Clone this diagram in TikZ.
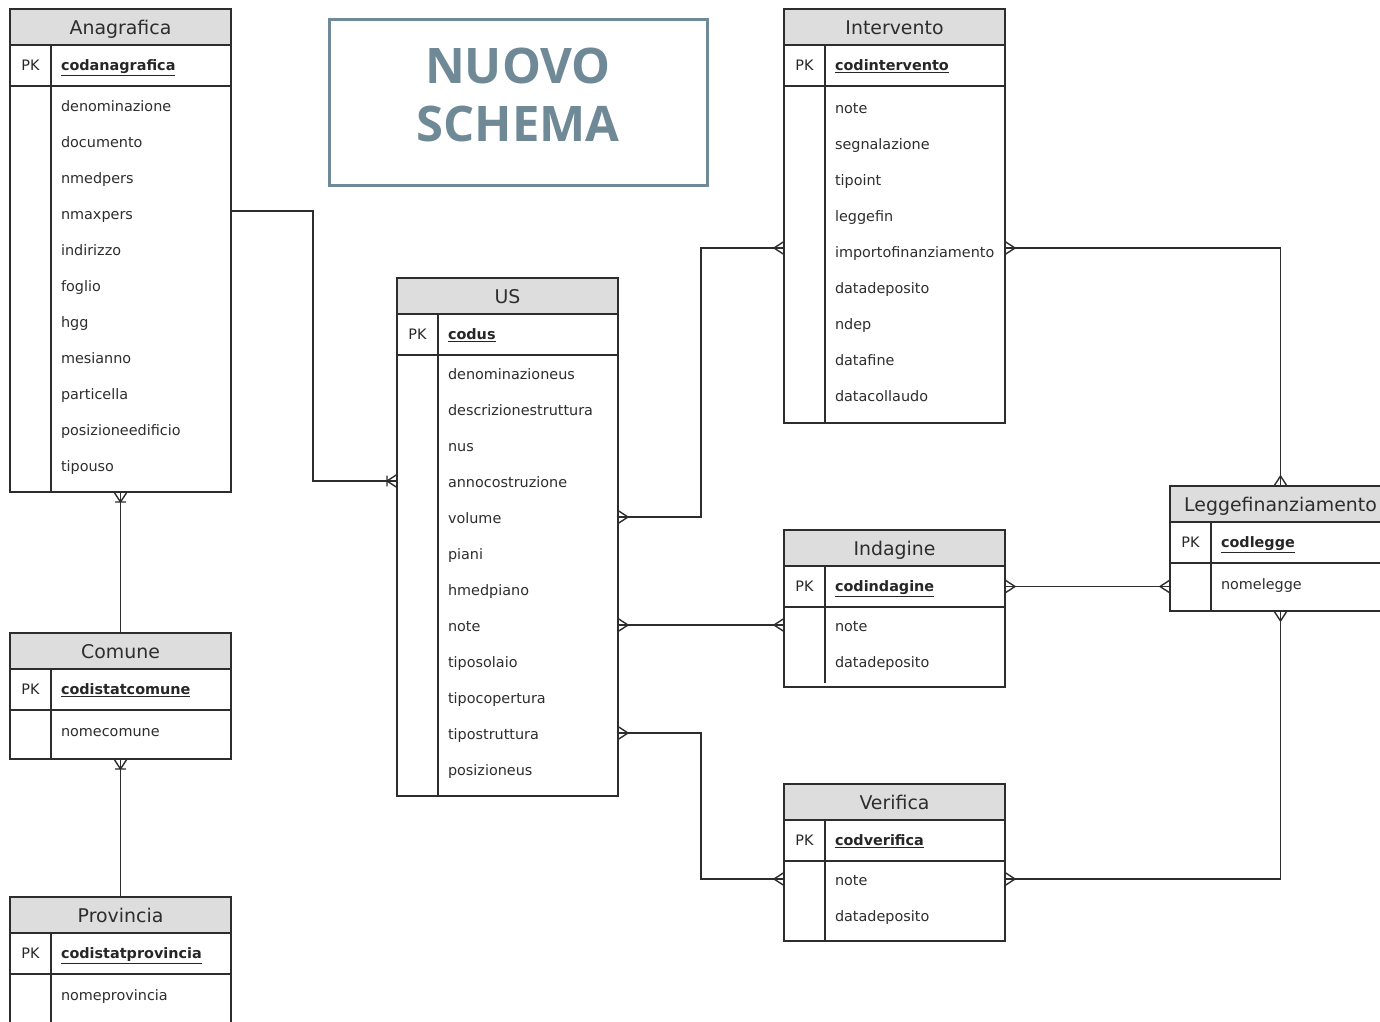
\documentclass[tikz,border=0pt]{standalone}
\usepackage{fontspec}
\setmainfont{DejaVu Sans}
\newfontfamily\titlefont{Open Sans}
\usetikzlibrary{positioning, arrows.meta}

\definecolor{titleblue}{RGB}{111,137,151}
\definecolor{linegray}{RGB}{45,45,45}
\definecolor{headgray}{RGB}{221,221,221}

% crow's foot (many)
\pgfdeclarearrow{
  name = Crowfoot,
  parameters = {\the\pgfarrowlength,\the\pgfarrowwidth},
  setup code = {
    \pgfarrowssettipend{0pt}
    \pgfarrowssetlineend{0pt}
    \pgfarrowssetbackend{-\pgfarrowlength}
    \pgfarrowssavethe\pgfarrowlength
    \pgfarrowssavethe\pgfarrowwidth
  },
  drawing code = {
    \pgfpathmoveto{\pgfqpoint{0pt}{.5\pgfarrowwidth}}
    \pgfpathlineto{\pgfqpoint{-\pgfarrowlength}{0pt}}
    \pgfpathlineto{\pgfqpoint{0pt}{-.5\pgfarrowwidth}}
    \pgfusepathqstroke
  },
  defaults = {length=10pt, width=13pt}
}

% crow's foot with bar (one or many)
\pgfdeclarearrow{
  name = CrowBar,
  parameters = {\the\pgfarrowlength,\the\pgfarrowwidth},
  setup code = {
    \pgfarrowssettipend{0pt}
    \pgfarrowssetlineend{0pt}
    \pgfarrowssetbackend{-\pgfarrowlength}
    \pgfarrowssavethe\pgfarrowlength
    \pgfarrowssavethe\pgfarrowwidth
  },
  drawing code = {
    \pgfpathmoveto{\pgfqpoint{0pt}{.5\pgfarrowwidth}}
    \pgfpathlineto{\pgfqpoint{-\pgfarrowlength}{0pt}}
    \pgfpathlineto{\pgfqpoint{0pt}{-.5\pgfarrowwidth}}
    \pgfpathmoveto{\pgfqpoint{-\pgfarrowlength}{.42\pgfarrowwidth}}
    \pgfpathlineto{\pgfqpoint{-\pgfarrowlength}{-.42\pgfarrowwidth}}
    \pgfusepathqstroke
  },
  defaults = {length=10pt, width=13pt}
}

\begin{document}
\begin{tikzpicture}[
        x=1pt, y=-1pt,
        entity/.style={
            rectangle, draw = linegray, fill = headgray, line width = 1.3pt,
            minimum width = 221pt, minimum height = 36pt, inner sep = 0pt, outer sep = 0pt,
            text height = 18pt, text depth = 2.5pt,
            anchor = north west, text = linegray, font = \fontsize{18.9}{22}\selectfont
        },
        keyrow/.style={
            rectangle, draw = linegray, line width = 1.3pt, text width = 221pt,
            minimum height = 41pt, inner sep = 0pt, outer sep = 0pt, align = left,
            text height = 13pt, text depth = 3pt,
            text = black!85, font = \fontsize{14.4}{36}\selectfont
        },
        attrs/.style={
            rectangle, draw = linegray, line width = 1.3pt, text width = 221pt,
            inner sep = 0pt, outer sep = 0pt, align = left,
            text = linegray, font = \fontsize{14.4}{36}\selectfont,
            execute at begin node = {\leftskip=51pt},
            execute at end node = {\endgraf\vspace{3pt}}
        },
        titlebox/.style={
            rectangle, draw = titleblue, line width = 3pt, minimum width = 378pt,
            minimum height = 166pt, align = center, text depth = 14pt, text = titleblue,
            font = \titlefont\bfseries\fontsize{49}{58}\selectfont
        },
        divider/.style={draw = linegray, line width = 1.3pt},
        relation/.style={draw = linegray, line width = 1.4pt},
    ]
    \clip (0,0) rectangle (1380,1021);

    \node (title) [titlebox] at (518,102) {NUOVO\\SCHEMA};

    \node (anagrafica) [entity] at (10,9) {Anagrafica};
    \node (anagraficaPK) [keyrow, below=0pt of anagrafica] {\makebox[41pt]{PK}\hspace{10pt}\textbf{\underline{codanagrafica}}};
    \node (anagraficaAttr) [attrs, minimum height=406pt, below=0pt of anagraficaPK] {denominazione\\documento\\nmedpers\\nmaxpers\\indirizzo\\foglio\\hgg\\mesianno\\particella\\posizioneedificio\\tipouso};
    \draw[divider] ([xshift=41pt]anagraficaPK.north west) -- ([xshift=41pt]anagraficaAttr.south west);

    \node (comune) [entity] at (10,633) {Comune};
    \node (comunePK) [keyrow, below=0pt of comune] {\makebox[41pt]{PK}\hspace{10pt}\textbf{\underline{codistatcomune}}};
    \node (comuneAttr) [attrs, minimum height=49pt, below=0pt of comunePK] {nomecomune};
    \draw[divider] ([xshift=41pt]comunePK.north west) -- ([xshift=41pt]comuneAttr.south west);

    \node (provincia) [entity] at (10,897) {Provincia};
    \node (provinciaPK) [keyrow, below=0pt of provincia] {\makebox[41pt]{PK}\hspace{10pt}\textbf{\underline{codistatprovincia}}};
    \node (provinciaAttr) [attrs, minimum height=49pt, below=0pt of provinciaPK] {nomeprovincia};
    \draw[divider] ([xshift=41pt]provinciaPK.north west) -- ([xshift=41pt]provinciaAttr.south west);

    \node (us) [entity] at (397,278) {US};
    \node (usPK) [keyrow, below=0pt of us] {\makebox[41pt]{PK}\hspace{10pt}\textbf{\underline{codus}}};
    \node (usAttr) [attrs, minimum height=441pt, below=0pt of usPK] {denominazioneus\\descrizionestruttura\\nus\\annocostruzione\\volume\\piani\\hmedpiano\\note\\tiposolaio\\tipocopertura\\tipostruttura\\posizioneus};
    \draw[divider] ([xshift=41pt]usPK.north west) -- ([xshift=41pt]usAttr.south west);

    \node (intervento) [entity] at (784,9) {Intervento};
    \node (interventoPK) [keyrow, below=0pt of intervento] {\makebox[41pt]{PK}\hspace{10pt}\textbf{\underline{codintervento}}};
    \node (interventoAttr) [attrs, minimum height=337pt, below=0pt of interventoPK] {note\\segnalazione\\tipoint\\leggefin\\importofinanziamento\\datadeposito\\ndep\\datafine\\datacollaudo};
    \draw[divider] ([xshift=41pt]interventoPK.north west) -- ([xshift=41pt]interventoAttr.south west);

    \node (indagine) [entity] at (784,530) {Indagine};
    \node (indaginePK) [keyrow, below=0pt of indagine] {\makebox[41pt]{PK}\hspace{10pt}\textbf{\underline{codindagine}}};
    \node (indagineAttr) [attrs, minimum height=80pt, below=0pt of indaginePK] {note\\datadeposito};
    \draw[divider] ([xshift=41pt]indaginePK.north west) -- ([xshift=41pt,yshift=4pt]indagineAttr.south west);

    \node (verifica) [entity] at (784,784) {Verifica};
    \node (verificaPK) [keyrow, below=0pt of verifica] {\makebox[41pt]{PK}\hspace{10pt}\textbf{\underline{codverifica}}};
    \node (verificaAttr) [attrs, minimum height=80pt, below=0pt of verificaPK] {note\\datadeposito};
    \draw[divider] ([xshift=41pt]verificaPK.north west) -- ([xshift=41pt]verificaAttr.south west);

    \node (legge) [entity] at (1170,486) {Leggefinanziamento};
    \node (leggePK) [keyrow, below=0pt of legge] {\makebox[41pt]{PK}\hspace{10pt}\textbf{\underline{codlegge}}};
    \node (leggeAttr) [attrs, minimum height=48pt, below=0pt of leggePK] {nomelegge};
    \draw[divider] ([xshift=41pt]leggePK.north west) -- ([xshift=41pt]leggeAttr.south west);

    % relations
    \draw[relation, -CrowBar] ([yshift=-125pt]anagraficaAttr.north east) -- ++(82,0) |- ([yshift=-126pt]usAttr.north west);
    \draw[relation, CrowBar-] (anagraficaAttr.south) -- (comune.north);
    \draw[relation, CrowBar-] (comuneAttr.south) -- (provincia.north);
    \draw[relation, Crowfoot-Crowfoot] ([yshift=-162pt]usAttr.north east) -- ++(83,0) |- ([yshift=-162pt]interventoAttr.north west);
    \draw[relation, Crowfoot-Crowfoot] ([yshift=-270pt]usAttr.north east) -- ([yshift=-18pt]indagineAttr.north west);
    \draw[relation, Crowfoot-Crowfoot] ([yshift=-378pt]usAttr.north east) -- ++(83,0) |- ([yshift=-18pt]verificaAttr.north west);
    \draw[relation, Crowfoot-Crowfoot] ([yshift=-162pt]interventoAttr.north east) -| (legge.north);
    \draw[relation, Crowfoot-Crowfoot] (indaginePK.east) -- (indaginePK.east -| leggeAttr.west);
    \draw[relation, Crowfoot-Crowfoot] ([yshift=-18pt]verificaAttr.north east) -| (leggeAttr.south);

\end{tikzpicture}
\end{document}
